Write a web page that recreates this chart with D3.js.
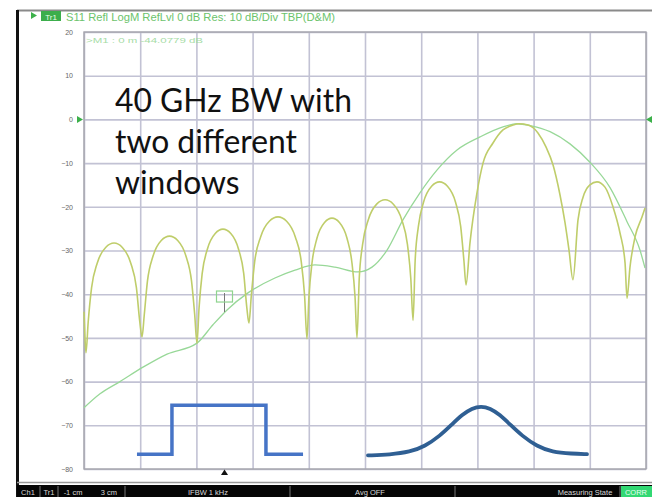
<!DOCTYPE html>
<html><head><meta charset="utf-8">
<script src="https://cdn.jsdelivr.net/npm/d3@7"></script>
<style>html,body{margin:0;padding:0;background:#fff;overflow:hidden}</style>
</head><body><svg id="c" width="652" height="497"></svg>
<script>
// ---------- data ----------
const yTicks = [20, 10, 0, -10, -20, -30, -40, -50, -60, -70, -80];
const xGrid = [-1, -0.6, -0.2, 0.2, 0.6, 1.0, 1.4, 1.8, 2.2, 2.6, 3.0];

// rectangular-window trace (yellow-green), x in cm, y in dB
const rectTraceX = [-1.000,-0.993,-0.986,
 -0.970,-0.946,-0.906,-0.846,-0.786,-0.727,-0.667,-0.627,-0.603,-0.587,
 -0.571,-0.548,-0.509,-0.450,-0.391,-0.333,-0.274,-0.235,-0.212,-0.196,
 -0.181,-0.159,-0.122,-0.066,-0.011,0.045,0.100,0.137,0.159,0.174,
 0.191,0.215,0.257,0.319,0.381,0.442,0.504,0.546,0.570,0.587,
 0.601,0.623,0.658,0.712,0.765,0.818,0.872,0.907,0.929,0.943,
 0.959,0.983,1.023,1.083,1.143,1.202,1.262,1.302,1.326,1.342,
 1.357,1.380,1.417,1.474,1.531,1.587,1.644,1.681,1.704,1.719,
 1.747,1.797,1.840,1.911,1.982,2.053,2.096,2.160,2.231,2.288,2.338,2.388,2.423,2.452,2.480,
 2.516,2.552,2.601,2.651,2.708,2.765,2.815,2.851,2.865,
 2.886,2.922,2.972,2.993];
const rectTraceDb = [-44.0,-50.0,-53.4,
 -46.3,-38.5,-32.9,-29.3,-28.3,-29.3,-32.9,-38.5,-46.3,-49.8,
 -44.7,-36.9,-31.3,-27.7,-26.7,-27.7,-31.3,-36.9,-44.7,-51.2,
 -43.1,-35.3,-29.7,-26.1,-25.1,-26.1,-29.7,-35.3,-43.1,-46.6,
 -40.3,-32.5,-26.9,-23.3,-22.3,-23.3,-26.9,-32.5,-40.3,-50.2,
 -40.6,-32.8,-27.2,-23.6,-22.6,-23.6,-27.2,-32.8,-40.6,-50.0,
 -36.4,-28.6,-23.0,-19.4,-18.4,-19.4,-23.0,-28.6,-36.4,-46.0,
 -32.3,-24.5,-18.9,-15.3,-14.3,-15.3,-18.9,-24.5,-32.3,-37.9,
 -28.3,-16.8,-10.0,-5.4,-2.4,-1.3,-1.0,-1.3,-3.1,-6.3,-10.4,-17.3,-23.5,-29.9,-36.7,
 -23.0,-17.8,-15.0,-14.3,-15.5,-20.0,-26.0,-32.9,-40.9,
 -33.8,-26.9,-22.3,-20.3];

// gaussian-window trace (light green)
const gaussTraceX = [-1.000,-0.886,-0.744,-0.580,-0.409,-0.196,-0.082,0.018,0.167,0.359,0.502,0.644,0.786,0.950,1.050,1.157,1.270,1.391,1.512,1.655,1.819,1.982,2.082,2.174,2.317,2.459,2.601,2.744,2.865,2.957,2.993];
const gaussTraceDb = [-66.0,-62.8,-60.0,-56.7,-53.7,-51.2,-47.0,-43.6,-39.7,-36.3,-34.5,-33.3,-33.8,-34.9,-33.8,-29.9,-23.0,-16.8,-11.6,-7.0,-4.0,-1.7,-1.0,-1.4,-2.8,-5.6,-9.8,-15.6,-23.4,-29.9,-34.0];

// window-shape sketches (drawn in plot units)
const rectWinX = [-0.623,-0.374,-0.374,0.295,0.295,0.559];
const rectWinDb = [-76.6,-76.6,-65.4,-65.4,-76.6,-76.6];
const gaussWinX = [1.021,1.178,1.320,1.427,1.534,1.619,1.690,1.762,1.826,1.890,1.961,2.032,2.117,2.224,2.331,2.473,2.580];
const gaussWinDb = [-76.9,-76.7,-76.1,-74.8,-72.4,-69.8,-67.6,-66.1,-65.6,-66.1,-67.6,-69.8,-72.4,-74.8,-76.1,-76.5,-76.6];

const markerX = 0, markerDb = -44.0779;
const headerText = "S11 Refl LogM RefLvl 0 dB Res: 10 dB/Div TBP(D&M)";
const markerText = ">M1 :  0 m  -44.0779 dB";
const titleLines = ["40 GHz BW with", "two different", "windows"];
const statusItems = [
  {t:"Ch1", x:28}, {t:"Tr1", x:49}, {t:"-1 cm", x:73}, {t:"3 cm", x:109},
  {t:"IFBW 1 kHz", x:208}, {t:"Avg OFF", x:370}, {t:"Measuring State", x:585}
];
const statusSeps = [40, 58, 125, 290, 455, 620];

// ---------- drawing ----------
const svg = d3.select("#c");
const x = d3.scaleLinear().domain([-1, 3]).range([84, 646]);
const y = d3.scaleLinear().domain([-80, 20]).range([469, 32]);

// frame
svg.append("rect").attr("x",0).attr("y",0).attr("width",652).attr("height",497).attr("fill","#fff");
svg.append("line").attr("x1",17).attr("x2",652).attr("y1",10.5).attr("y2",10.5).attr("stroke","#8a8a8a").attr("stroke-width",2);
svg.append("line").attr("x1",17.5).attr("x2",17.5).attr("y1",10).attr("y2",497).attr("stroke","#111").attr("stroke-width",3);
svg.append("line").attr("x1",17).attr("x2",652).attr("y1",482.5).attr("y2",482.5).attr("stroke","#999").attr("stroke-width",1.5);

// header
svg.append("path").attr("d","M31,12 L37,15.5 L31,19 Z").attr("fill","#3cb04a");
svg.append("rect").attr("x",41).attr("y",11).attr("width",20).attr("height",10).attr("fill","#3cae4c");
svg.append("text").attr("x",51).attr("y",19.5).attr("text-anchor","middle").attr("font-family","Liberation Sans, Arial").attr("font-size",8).attr("fill","#e8ffe8").text("Tr1");
svg.append("text").attr("x",66).attr("y",20.5).attr("font-family","Liberation Sans, Arial").attr("font-size",10.5)
  .attr("fill","#6cc36c").attr("textLength",269).attr("lengthAdjust","spacingAndGlyphs").text(headerText);

// grid
const g = svg.append("g");
g.append("g").attr("transform","translate(84,0)")
  .call(d3.axisLeft(y).tickValues(yTicks).tickSize(-562).tickFormat(""))
  .call(s => s.select(".domain").remove())
  .call(s => s.selectAll("line").attr("stroke","#c2c2d4").attr("stroke-width",1.6));
g.append("g").attr("transform","translate(0,469)")
  .call(d3.axisBottom(x).tickValues(xGrid).tickSize(-437).tickFormat(""))
  .call(s => s.select(".domain").remove())
  .call(s => s.selectAll("line").attr("stroke","#c2c2d4").attr("stroke-width",1.6));
// border
svg.append("rect").attr("x",84).attr("y",32).attr("width",562).attr("height",437)
  .attr("fill","none").attr("stroke","#a4a4ac").attr("stroke-width",1.4);

// y labels
svg.append("g").attr("transform","translate(73,0)")
  .call(d3.axisLeft(y).tickValues(yTicks).tickSize(0).tickPadding(0).tickFormat(d3.format("d")))
  .call(s => s.select(".domain").remove())
  .call(s => s.selectAll("text").attr("font-family","Liberation Sans, Arial").attr("font-size",7).attr("fill","#666"));

// reference markers
svg.append("path").attr("d",`M77,${y(0)-3.5} L83,${y(0)} L77,${y(0)+3.5} Z`).attr("fill","#3cb04a");
svg.append("path").attr("d",`M652,${y(0)-3.5} L646,${y(0)} L652,${y(0)+3.5} Z`).attr("fill","#3cb04a");

// marker readout
svg.append("text").attr("x",86).attr("y",43).attr("font-family","Liberation Sans, Arial").attr("font-size",8)
  .attr("fill","#a6dca6").attr("textLength",117).attr("lengthAdjust","spacingAndGlyphs").text(markerText);

// traces
const line = d3.line().x(d => x(d[0])).y(d => y(d[1])).curve(d3.curveMonotoneX);
svg.append("path").datum(gaussTraceX.map((v,i)=>[v,gaussTraceDb[i]]))
  .attr("d",line).attr("fill","none").attr("stroke","#98d898").attr("stroke-width",1.3);
svg.append("path").datum(rectTraceX.map((v,i)=>[v,rectTraceDb[i]]))
  .attr("d",line).attr("fill","none").attr("stroke","#bfcd6a").attr("stroke-width",1.6);

// marker M1
const mx = x(markerX), my = y(markerDb);
svg.append("line").attr("x1",mx).attr("x2",mx).attr("y1",my-19).attr("y2",my).attr("stroke","#777").attr("stroke-width",1);
svg.append("rect").attr("x",mx-8).attr("y",my-21).attr("width",16).attr("height",11).attr("fill","none").attr("stroke","#8fd48f").attr("stroke-width",1.2);
svg.append("path").attr("d",`M${mx},469.5 L${mx+3.5},475 L${mx-3.5},475 Z`).attr("fill","#111");

// window sketches
const lin = d3.line().x(d => x(d[0])).y(d => y(d[1]));
svg.append("path").datum(rectWinX.map((v,i)=>[v,rectWinDb[i]]))
  .attr("d",lin).attr("fill","none").attr("stroke","#4674c6").attr("stroke-width",3.5).attr("stroke-linejoin","miter");
const smooth = d3.line().x(d => x(d[0])).y(d => y(d[1])).curve(d3.curveBasis);
svg.append("path").datum(gaussWinX.map((v,i)=>[v,gaussWinDb[i]]))
  .attr("d",smooth).attr("fill","none").attr("stroke","#2f5f93").attr("stroke-width",3.8).attr("stroke-linecap","round");

// title text
const tg = svg.append("g");
const tt = tg.selectAll("text").data(titleLines).join("text")
  .attr("x",115).attr("y",(d,i)=>112 + i*41)
  .attr("font-family","Lato, 'Open Sans', sans-serif").attr("font-size",32).attr("fill","#111").text(d=>d);
const w0 = tt.nodes()[0].getComputedTextLength();
tt.attr("font-size", 32 * 237 / w0);

// status bar
svg.append("rect").attr("x",17).attr("y",485).attr("width",635).attr("height",12).attr("fill","#050505");
statusSeps.forEach(s => svg.append("line").attr("x1",s).attr("x2",s).attr("y1",486).attr("y2",497).attr("stroke","#777").attr("stroke-width",1));
svg.append("rect").attr("x",621).attr("y",486).attr("width",31).attr("height",11).attr("fill","#32d873");
svg.selectAll("text.st").data(statusItems).join("text").attr("class","st")
  .attr("x",d=>d.x).attr("y",494.5).attr("text-anchor","middle")
  .attr("font-family","Liberation Sans, Arial").attr("font-size",7.5).attr("fill","#d8d8d8").text(d=>d.t);
svg.append("text").attr("x",636).attr("y",494.5).attr("text-anchor","middle")
  .attr("font-family","Liberation Sans, Arial").attr("font-size",7.5).attr("fill","#e8fff0").text("CORR");
</script></body></html>
